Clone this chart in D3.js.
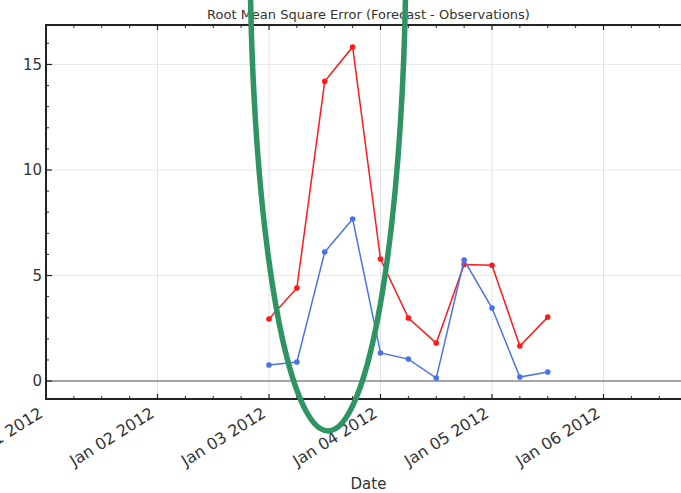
<!DOCTYPE html>
<html>
<head>
<meta charset="utf-8">
<script src="https://cdn.jsdelivr.net/npm/d3@7"></script>
<style>
	body { margin: 0; background: #fff; }
	text { font-family: "DejaVu Sans", sans-serif; fill: #333; }
</style>
</head>
<body>
<svg id="chart" width="681" height="493"></svg>
<script>
// forecast times, every 6 hours
var times = ["2012-01-03 00:00", "2012-01-03 06:00", "2012-01-03 12:00", "2012-01-03 18:00",
	"2012-01-04 00:00", "2012-01-04 06:00", "2012-01-04 12:00", "2012-01-04 18:00",
	"2012-01-05 00:00", "2012-01-05 06:00", "2012-01-05 12:00"];
var rmseRed = [2.94, 4.41, 14.2, 15.83, 5.78, 2.99, 1.80, 5.52, 5.49, 1.66, 3.03];
var rmseBlue = [0.76, 0.90, 6.11, 7.68, 1.33, 1.04, 0.14, 5.73, 3.46, 0.19, 0.43];
var yTicks = [0, 5, 10, 15];
var xLimits = ["2012-01-01 00:00", "2012-01-06 18:50"];
var yLimits = [-0.85, 16.87];

var parse = d3.timeParse("%Y-%m-%d %H:%M");
var dates = times.map(function (t) { return parse(t); });

var plotLeft = 46, plotRight = 691, plotTop = 25, plotBottom = 399;
var svg = d3.select("#chart");

var x = d3.scaleTime()
	.domain(xLimits.map(function (t) { return parse(t); }))
	.range([plotLeft, plotRight]);
var y = d3.scaleLinear()
	.domain(yLimits)
	.range([plotBottom, plotTop]);

var xMajor = d3.timeDay.range(x.domain()[0], x.domain()[1]);
var xMinor = d3.timeHour.every(6).range(x.domain()[0], x.domain()[1]);
var yMinor = d3.range(0, 17);

// grid
var grid = svg.append("g");
xMajor.forEach(function (d) {
	grid.append("line")
		.attr("x1", x(d)).attr("x2", x(d))
		.attr("y1", plotTop).attr("y2", plotBottom)
		.style("stroke", "#e2e2e2")
		.style("stroke-width", 1);
});
yTicks.forEach(function (v) {
	grid.append("line")
		.attr("x1", plotLeft).attr("x2", plotRight)
		.attr("y1", y(v)).attr("y2", y(v))
		.style("stroke", "#e8e8e8")
		.style("stroke-width", 1);
});

// zero line
svg.append("line")
	.attr("x1", plotLeft).attr("x2", plotRight)
	.attr("y1", y(0)).attr("y2", y(0))
	.style("stroke", "#888")
	.style("stroke-width", 1.5);

function drawSeries(values, color) {
	var line = d3.line()
		.x(function (d, i) { return x(dates[i]); })
		.y(function (d) { return y(d); });
	svg.append("path")
		.datum(values)
		.attr("d", line)
		.style("fill", "none")
		.style("stroke", color)
		.style("stroke-width", 1.5);
	svg.append("g").selectAll("circle")
		.data(values)
		.enter().append("circle")
		.attr("cx", function (d, i) { return x(dates[i]); })
		.attr("cy", function (d) { return y(d); })
		.attr("r", 2.8)
		.style("fill", color);
}
drawSeries(rmseRed, "#ff1a1a");
drawSeries(rmseBlue, "#4a72e8");

// ticks, pointing inward
var ticks = svg.append("g").style("stroke", "#222");
xMinor.forEach(function (d) {
	var major = d.getHours() === 0;
	var len = major ? 5 : 3;
	ticks.append("line")
		.attr("x1", x(d)).attr("x2", x(d))
		.attr("y1", plotBottom).attr("y2", plotBottom - len)
		.style("stroke-width", major ? 1.2 : 1);
	ticks.append("line")
		.attr("x1", x(d)).attr("x2", x(d))
		.attr("y1", plotTop).attr("y2", plotTop + len)
		.style("stroke-width", major ? 1.2 : 1);
});
yMinor.forEach(function (v) {
	var major = yTicks.indexOf(v) >= 0;
	ticks.append("line")
		.attr("x1", plotLeft).attr("x2", plotLeft + (major ? 6 : 3))
		.attr("y1", y(v)).attr("y2", y(v))
		.style("stroke-width", major ? 1.2 : 1);
});

// spines
svg.append("path")
	.attr("d", "M" + plotRight + "," + plotTop + "H" + plotLeft + "V" + plotBottom + "H" + plotRight)
	.style("fill", "none")
	.style("stroke", "#222")
	.style("stroke-width", 2);

// tick labels
var fmt = d3.timeFormat("%b %d %Y");
svg.append("g").selectAll("text")
	.data(xMajor)
	.enter().append("text")
	.attr("transform", function (d) {
		return "translate(" + (x(d) - 2) + "," + (plotBottom + 17) + ") rotate(-32)";
	})
	.attr("text-anchor", "end")
	.style("font-size", "16px")
	.text(function (d) { return fmt(d); });

svg.append("g").selectAll("text")
	.data(yTicks)
	.enter().append("text")
	.attr("x", plotLeft - 4)
	.attr("y", function (d) { return y(d); })
	.attr("dy", "0.36em")
	.attr("text-anchor", "end")
	.style("font-size", "15px")
	.text(function (d) { return d; });

svg.append("text")
	.attr("x", (plotLeft + plotRight) / 2)
	.attr("y", 19)
	.attr("text-anchor", "middle")
	.style("font-size", "13px")
	.text("Root Mean Square Error (Forecast - Observations)");

svg.append("text")
	.attr("x", (plotLeft + plotRight) / 2)
	.attr("y", 489)
	.attr("text-anchor", "middle")
	.style("font-size", "15px")
	.text("Date");

// hand-drawn highlight
svg.append("ellipse")
	.attr("cx", 328)
	.attr("cy", -59)
	.attr("rx", 78)
	.attr("ry", 490)
	.style("fill", "none")
	.style("stroke", "#2f9463")
	.style("stroke-width", 5.5);
</script>
</body>
</html>
